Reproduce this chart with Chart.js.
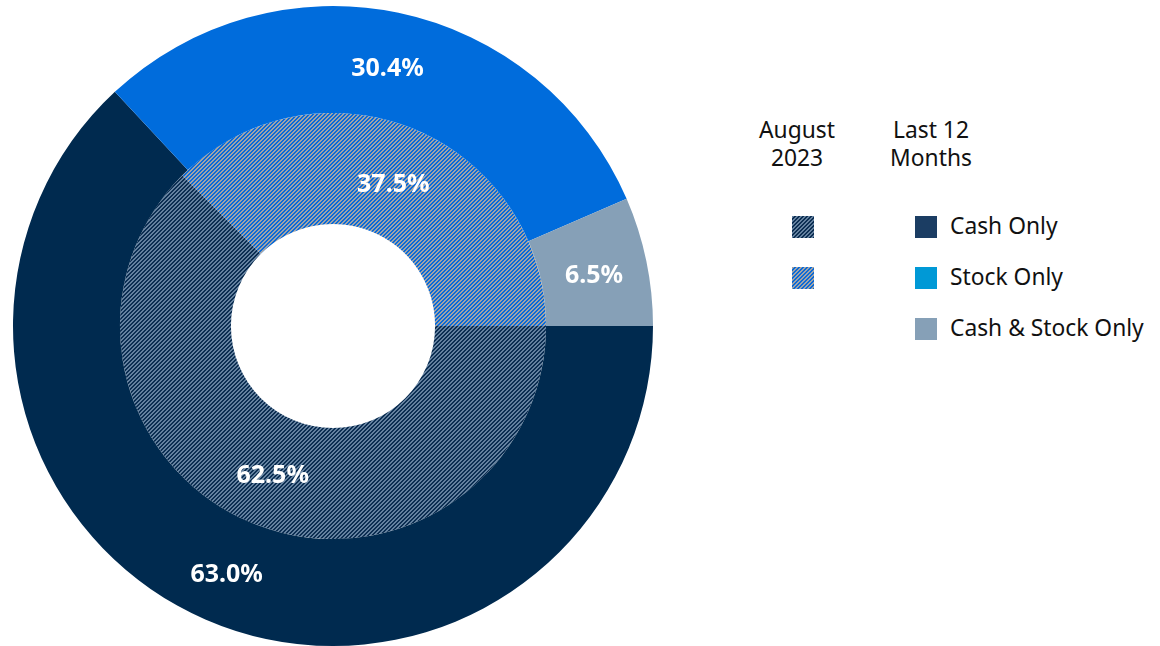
<!DOCTYPE html>
<html>
<head>
<meta charset="utf-8">
<script src="https://cdn.jsdelivr.net/npm/chart.js@4"></script>
<style>
  body { margin: 0; background: #fff; font-family: "Noto Sans", sans-serif; }
  #wrap { position: absolute; left: 0; top: 0; width: 666px; height: 646px; }
  #legend { position: absolute; left: 740px; top: 0; width: 420px; height: 646px; color: #111; font-size: 22.8px; }
  .head { position: absolute; top: 116px; text-align: center; line-height: 28px; width: 120px; }
  .sq { position: absolute; width: 22px; height: 22px; }
  .lab { position: absolute; left: 210px; line-height: 24px; white-space: nowrap; }
</style>
</head>
<body>
<div id="wrap"><canvas id="myChart"></canvas></div>
<div id="legend"></div>
<script>
// data
const categories = ['Cash Only', 'Stock Only', 'Cash & Stock Only']
const last12Months = [63.0, 30.4, 6.5]
const august2023 = [62.5, 37.5]
const seriesNames = ['Last 12 Months', 'August 2023']
const headerLines = [['August', '2023'], ['Last 12', 'Months']]

const solidColors = ['#002a4f', '#006cdc', '#86a0b7']
const legendColors = ['#1b3d63', '#0099d6', '#86a0b7']

const makeHatch = (base, stripe) =>
{
    let c = document.createElement('canvas')
    c.width = 4
    c.height = 4
    let g = c.getContext('2d')
    g.fillStyle = base
    g.fillRect(0, 0, 4, 4)
    g.fillStyle = stripe
    for (let x = 0; x < 4; x++) {
        for (let y = 0; y < 4; y++) {
            if ((x + y) % 4 < 2) g.fillRect(x, y, 1, 1)
        }
    }
    return { canvas: c, pattern: g.createPattern(c, 'repeat') }
}

const hatchCash = makeHatch('#0c2e52', '#64819f')
const hatchStock = makeHatch('#0a6ad8', '#a0a3a7')

const labelPlugin = {
    id: 'arcLabels',
    afterDatasetsDraw(chart) {
        const ctx = chart.ctx
        ctx.save()
        ctx.fillStyle = '#fff'
        ctx.font = 'bold 25px "Noto Sans"'
        ctx.textAlign = 'center'
        ctx.textBaseline = 'middle'
        chart.data.datasets.forEach((ds, i) => {
            chart.getDatasetMeta(i).data.forEach((arc, j) => {
                const p = arc.getCenterPoint()
                ctx.fillText(ds.data[j].toFixed(1) + '%', p.x, p.y + 4)
            })
        })
        ctx.restore()
    }
}

new Chart(document.getElementById('myChart'), {
    type: 'doughnut',
    data: {
        labels: categories,
        datasets: [
            { label: seriesNames[0], data: last12Months, backgroundColor: solidColors, borderWidth: 0, weight: 107 },
            { label: seriesNames[1], data: august2023, backgroundColor: [hatchCash.pattern, hatchStock.pattern], borderWidth: 0, weight: 111 }
        ]
    },
    options: {
        responsive: true,
        maintainAspectRatio: false,
        animation: false,
        rotation: 90,
        cutout: '31.9%',
        layout: { padding: { top: 6, bottom: 0, left: 13, right: 13 } },
        plugins: { legend: { display: false }, tooltip: { enabled: false } }
    },
    plugins: [labelPlugin]
})

// legend
let legend = document.getElementById('legend')
headerLines.forEach((lines, i) => {
    let h = document.createElement('div')
    h.className = 'head'
    h.style.left = (i === 0 ? -3 : 131) + 'px'
    h.innerHTML = lines.join('<br>')
    legend.appendChild(h)
})
const hatches = [hatchCash, hatchStock]
august2023.forEach((v, i) => {
    let s = document.createElement('div')
    s.className = 'sq'
    s.style.left = '52px'
    s.style.top = (216 + i * 51) + 'px'
    s.style.backgroundImage = `url(${hatches[i].canvas.toDataURL()})`
    legend.appendChild(s)
})
categories.forEach((name, i) => {
    let s = document.createElement('div')
    s.className = 'sq'
    s.style.left = '175px'
    s.style.top = (216 + i * 51) + 'px'
    s.style.background = legendColors[i]
    legend.appendChild(s)
    let t = document.createElement('div')
    t.className = 'lab'
    t.style.top = (214 + i * 51) + 'px'
    t.textContent = name
    legend.appendChild(t)
})
</script>
</body>
</html>
